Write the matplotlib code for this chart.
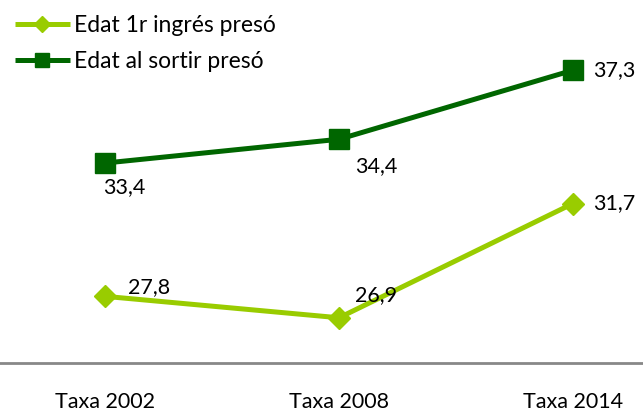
import matplotlib.pyplot as plt

categories = ["Taxa 2002", "Taxa 2008", "Taxa 2014"]
entry_age = [27.8, 26.9, 31.7]
exit_age = [33.4, 34.4, 37.3]
labels = ["Edat 1r ingrés presó", "Edat al sortir presó"]

plt.rcParams["font.family"] = ["Lato", "DejaVu Sans"]

fig = plt.figure(figsize=(6.43, 4.12), dpi=100)
# axes spans the full width; bottom edge is the grey baseline
ax = fig.add_axes([0, 1 - 363 / 412, 1, 363 / 412])

x = list(range(len(categories)))
light = "#99CC00"
dark = "#006600"

ax.plot(x, entry_age, color=light, lw=3.6, marker="D", ms=11,
        label=labels[0], solid_capstyle="butt")
ax.plot(x, exit_age, color=dark, lw=3.6, marker="s", ms=14,
        label=labels[1], solid_capstyle="butt")

ax.set_xlim(-105 / 234, (643 - 105) / 234)
ax.set_ylim(25, 40.25)

fs = 15.5
fmt = lambda v: f"{v:.1f}".replace(".", ",")
# data labels (offsets in points)
offsets_entry = [(32, 6.5), (27, 16), (30, 0)]
offsets_exit = [(14, -17), (27, -19), (30, 0)]
for xi, v, off in zip(x, entry_age, offsets_entry):
    ax.annotate(fmt(v), (xi, v), xytext=off, textcoords="offset points",
                ha="center", va="center", fontsize=fs)
for xi, v, off in zip(x, exit_age, offsets_exit):
    ax.annotate(fmt(v), (xi, v), xytext=off, textcoords="offset points",
                ha="center", va="center", fontsize=fs)

for s in ["top", "left", "right"]:
    ax.spines[s].set_visible(False)
ax.spines["bottom"].set_color("#888888")
ax.spines["bottom"].set_linewidth(2)
ax.set_yticks([])
ax.set_xticks(x)
ax.set_xticklabels(categories, fontsize=fs)
ax.tick_params(axis="x", length=0, pad=21)

ax.legend(loc="upper left", bbox_to_anchor=(0.0, 1.0), bbox_transform=fig.transFigure,
          frameon=False, fontsize=16.5, handlelength=2.4, handletextpad=0.2,
          labelspacing=0.65, borderaxespad=0.4, borderpad=0.25, markerscale=0.75)

fig.savefig("out.png", dpi=100)
